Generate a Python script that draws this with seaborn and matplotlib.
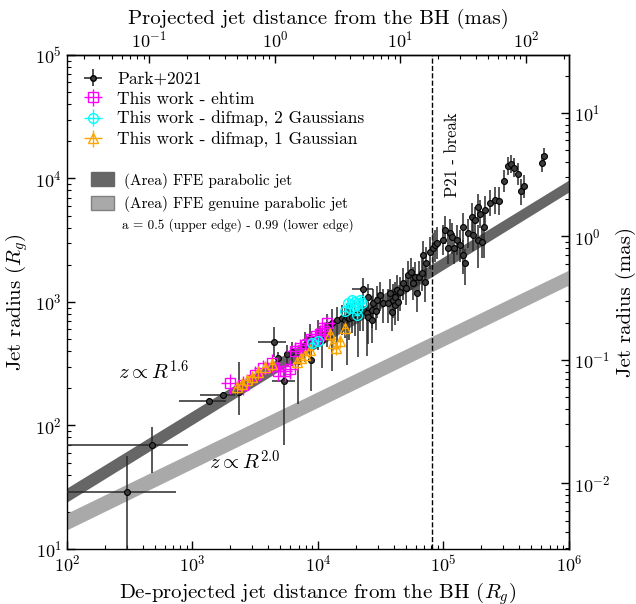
import numpy as np
import matplotlib
matplotlib.use("Agg")
import matplotlib.pyplot as plt
import seaborn as sns
from matplotlib.patches import Patch

# ---------------- data ----------------
# Park+2021 (de-projected distance [Rg], radius [Rg], asymmetric errors)
park_x = [300, 475, 1350, 1750, 2350, 4460, 4800, 5360, 5660, 6210, 6930, 7880, 8630, 8790,
          10000, 10800, 11800, 12900, 14200, 15500, 16400, 17000, 17700, 18700, 19700, 20800,
          21600, 22800, 22800, 24600, 25000, 25000, 26900, 26900, 27400, 29000, 29500, 31200,
          33000, 36100, 37500, 38900, 39600, 41100, 41100, 42600, 43400, 45000, 47500, 50200,
          52100, 55100, 57200, 59300, 61500, 63800, 67500, 68700, 71200, 72600, 78000, 82400,
          85500, 88700, 99000, 103000, 109000, 113000, 117000, 121000, 128000, 135000, 143000,
          143000, 148000, 157000, 169000, 172000, 178000, 188000, 188000, 195000, 203000, 210000,
          214000, 235000, 257000, 277000, 303000, 326000, 345000, 365000, 393000, 415000, 438000,
          610000, 632000]
park_y = [29, 70, 158, 177, 187, 474, 352, 229, 379, 394, 330, 449, 511, 339,
          561, 492, 651, 676, 715, 742, 715, 757, 742, 757, 785, 757,
          830, 861, 1270, 815, 1100, 757, 861, 715, 981, 846, 1040, 1140,
          981, 981, 1180, 830, 1040, 1100, 946, 1250, 1000, 1200, 1430, 1300,
          1660, 1750, 1430, 1590, 1180, 1590, 1720, 2400, 1450, 2070, 2540, 2740,
          2900, 3010, 3180, 3830, 2740, 3620, 3360, 2740, 3180, 2900, 4050,
          2400, 2070, 3620, 4880, 3490, 4610, 5880, 3180, 5160, 3060, 4050,
          5560, 6340, 6700, 6580, 9550, 12600, 13100, 12200, 10900, 7930, 8690,
          13400, 15200]
park_xlo = [200, 400, 570, 600, 0, 1130, 0, 1060, 0, 0, 0, 0, 0, 0,
            0, 0, 0, 0, 0, 0, 0, 0, 0, 0, 0, 0,
            0, 0, 4100, 0, 0, 0, 0, 0, 0, 0, 0, 0,
            0, 0, 0, 0, 0, 0, 0, 0, 0, 0, 0, 0,
            0, 0, 0, 0, 0, 0, 0, 0, 0, 0, 0, 0,
            0, 0, 0, 0, 0, 0, 0, 0, 0, 0, 0,
            0, 0, 0, 0, 0, 0, 0, 0, 0, 0, 0,
            0, 0, 0, 0, 0, 0, 0, 0, 0, 0, 0,
            0, 0]
park_xhi = [440, 445, 500, 430, 0, 1100, 0, 1200, 0, 0, 0, 0, 0, 0,
            0, 0, 0, 0, 0, 0, 0, 0, 0, 0, 0, 0,
            0, 0, 4600, 0, 0, 0, 0, 0, 0, 0, 0, 0,
            0, 0, 0, 0, 0, 0, 0, 0, 0, 0, 0, 0,
            0, 0, 0, 0, 0, 0, 0, 0, 0, 0, 0, 0,
            0, 0, 0, 0, 0, 0, 0, 0, 0, 0, 0,
            0, 0, 0, 0, 0, 0, 0, 0, 0, 0, 0,
            0, 0, 0, 0, 0, 0, 0, 0, 0, 0, 0,
            0, 0]
park_ylo = [21, 29, 8, 10, 65, 115, 40, 160, 70, 90, 180, 120, 150, 150,
            150, 200, 220, 400, 300, 200, 200, 450, 250, 200, 250, 400,
            250, 280, 250, 450, 300, 300, 250, 250, 300, 250, 300, 300,
            300, 300, 350, 250, 300, 300, 300, 350, 300, 350, 400, 350,
            450, 500, 400, 450, 350, 450, 500, 600, 450, 500, 700, 700,
            800, 800, 800, 900, 700, 900, 900, 700, 800, 800, 1000,
            700, 700, 900, 1200, 900, 1100, 1300, 1300, 1200, 800, 1800,
            1300, 1400, 1500, 1500, 1800, 2000, 2000, 2000, 2000, 1800, 1800,
            2200, 2200]
park_yhi = [28, 27, 8, 10, 140, 154, 40, 50, 70, 80, 60, 120, 150, 100,
            150, 120, 150, 200, 200, 200, 180, 200, 200, 220, 230, 250,
            250, 250, 300, 250, 300, 250, 250, 200, 300, 250, 300, 300,
            300, 300, 350, 250, 350, 350, 300, 400, 300, 400, 450, 400,
            500, 500, 500, 500, 450, 550, 600, 700, 500, 700, 800, 900,
            900, 1000, 1000, 1100, 900, 1100, 1000, 900, 1000, 900, 1200,
            800, 600, 1100, 1400, 1100, 1300, 1600, 1000, 1500, 1000, 1200,
            1600, 1800, 1900, 1900, 2200, 2400, 2400, 2400, 2400, 2000, 2000,
            2500, 2500]

# This work - ehtim
eht_x = [1990, 2520, 3150, 3650, 4300, 4800, 5460, 5980, 6560, 7190, 8020, 8790, 9640, 10400, 11200, 11800]
eht_y = [221, 213, 256, 292, 321, 276, 276, 287, 401, 424, 449, 502, 531, 551, 582, 676]
eht_xerr = [300, 380, 470, 550, 650, 700, 800, 900, 1000, 1100, 1200, 1300, 1400, 1500, 1700, 1800]
eht_yerr = [40, 38, 45, 50, 55, 48, 48, 50, 70, 75, 80, 85, 90, 95, 100, 110]

# This work - difmap, 2 Gaussians
dm2_x = [8960, 10000, 16400, 17300, 18000, 18700, 19700, 20500, 20800, 21600, 22400, 20500]
dm2_y = [466, 483, 846, 981, 894, 1040, 1000, 877, 981, 1040, 981, 785]
dm2_xerr = [450, 500, 800, 850, 900, 900, 1000, 1000, 1000, 1100, 1100, 1000]
dm2_yerr = [35, 38, 65, 75, 70, 80, 80, 70, 75, 80, 75, 60]

# This work - difmap, 1 Gaussian
dm1_x = [2270, 2480, 2720, 2980, 3330, 3780, 4300, 6810, 7330, 7880, 8630, 12500, 13200, 13900, 15000, 16400]
dm1_y = [205, 217, 233, 247, 271, 298, 315, 327, 352, 372, 408, 551, 466, 424, 483, 615]
dm1_xerr = [140, 150, 160, 180, 200, 230, 260, 400, 440, 470, 520, 750, 800, 830, 900, 1000]
dm1_yerr = [25, 26, 28, 30, 32, 36, 38, 40, 42, 45, 50, 65, 56, 51, 58, 74]

# FFE model bands (edges: a = 0.5 upper, a = 0.99 lower)
band_z = [1e2, 1e6]
ffe_upper = [31.2, 9730]
ffe_lower = [24.0, 7780]
gen_upper = [19.5, 1816]
gen_lower = [14.3, 1374]

break_z = 8.1e4
rg_per_mas_z = 4540.0   # distance axis conversion
rg_per_mas_r = 3400.0   # radius axis conversion

# ---------------- style ----------------
sns.set_theme(style="ticks")
plt.rcParams.update({
    "font.family": "serif",
    "font.serif": ["cmr10", "DejaVu Serif"],
    "mathtext.fontset": "cm",
    "axes.formatter.use_mathtext": True,
    "axes.edgecolor": "black",
    "axes.linewidth": 1.0,
    "xtick.color": "black",
    "ytick.color": "black",
    "text.color": "black",
    "axes.labelcolor": "black",
})

fig = plt.figure(figsize=(6.36, 6.04), dpi=100)
ax = fig.add_axes([0.1053, 0.0911, 0.7893, 0.8179])
ax.set_xscale("log")
ax.set_yscale("log")

ax.fill_between(band_z, ffe_lower, ffe_upper, color="#666666", lw=0, zorder=1)
ax.fill_between(band_z, gen_lower, gen_upper, color="#a9a9a9", lw=0, zorder=1)

# Park+2021
ax.errorbar(park_x, park_y, xerr=[park_xlo, park_xhi], yerr=[park_ylo, park_yhi],
            fmt="none", ecolor="#2a2a2a", elinewidth=1.1, capsize=0, zorder=3)
sns.scatterplot(x=park_x, y=park_y, ax=ax, marker="o", s=18, color="#3c3c3c",
                edgecolor="black", linewidth=0.8, zorder=3.5, legend=False)

common = dict(capsize=0, elinewidth=1.0, mfc="none", mew=1.0, ms=7)
ax.errorbar(eht_x, eht_y, xerr=eht_xerr, yerr=eht_yerr, fmt="s", color="magenta", zorder=4, **common)
ax.errorbar(dm1_x, dm1_y, xerr=dm1_xerr, yerr=dm1_yerr, fmt="^", color="orange", zorder=4.5, **common)
ax.errorbar(dm2_x, dm2_y, xerr=dm2_xerr, yerr=dm2_yerr, fmt="o", color="cyan", zorder=5, **common)

ax.axvline(break_z, color="black", ls="--", lw=1.0, zorder=2)
ax.text(0.768, 0.797, "P21 - break", rotation=90, transform=ax.transAxes,
        ha="center", va="center", fontsize=12)

ax.text(0.173, 0.358, r"$z \propto R^{1.6}$", transform=ax.transAxes, ha="center", va="center", fontsize=15)
ax.text(0.355, 0.176, r"$z \propto R^{2.0}$", transform=ax.transAxes, ha="center", va="center", fontsize=15)

ax.set_xlim(1e2, 1e6)
ax.set_ylim(1e1, 1e5)
ax.set_xlabel(r"De-projected jet distance from the BH ($R_g$)", fontsize=15)
ax.set_ylabel(r"Jet radius ($R_g$)", fontsize=15)
ax.tick_params(which="both", direction="in", top=False, right=False, labelsize=13)
ax.tick_params(which="major", length=6, width=1)
ax.tick_params(which="minor", length=3, width=0.8)

secx = ax.secondary_xaxis("top", functions=(lambda z: np.asarray(z) / rg_per_mas_z,
                                             lambda m: np.asarray(m) * rg_per_mas_z))
secx.set_xlabel("Projected jet distance from the BH (mas)", fontsize=15)
secx.tick_params(which="both", direction="in", labelsize=13)
secx.tick_params(which="major", length=6, width=1)
secx.tick_params(which="minor", length=3, width=0.8)

secy = ax.secondary_yaxis("right", functions=(lambda r: np.asarray(r) / rg_per_mas_r,
                                               lambda m: np.asarray(m) * rg_per_mas_r))
secy.set_ylabel("Jet radius (mas)", fontsize=15)
secy.tick_params(which="both", direction="in", labelsize=13)
secy.tick_params(which="major", length=6, width=1)
secy.tick_params(which="minor", length=3, width=0.8)

# legends
nan = [np.nan]
h1 = ax.errorbar(nan, nan, xerr=[1], yerr=[1], fmt="o", ms=4, mfc="#3c3c3c", mec="black",
                 ecolor="#1e1e1e", elinewidth=1.1, capsize=0)
h2 = ax.errorbar(nan, nan, xerr=[1], yerr=[1], fmt="s", color="magenta", **common)
h3 = ax.errorbar(nan, nan, xerr=[1], yerr=[1], fmt="o", color="cyan", **common)
h4 = ax.errorbar(nan, nan, xerr=[1], yerr=[1], fmt="^", color="orange", **common)
leg1 = ax.legend([h1, h2, h3, h4],
                 ["Park+2021", "This work - ehtim", "This work - difmap, 2 Gaussians",
                  "This work - difmap, 1 Gaussian"],
                 loc="upper left", bbox_to_anchor=(0.0, 0.991), frameon=False, fontsize=12.5,
                 handlelength=1.6, handletextpad=0.6, labelspacing=0.25, borderaxespad=0.3)
ax.add_artist(leg1)
ax.legend([Patch(facecolor="#666666", edgecolor="#666666"), Patch(facecolor="#a9a9a9", edgecolor="#808080")],
          ["(Area) FFE parabolic jet", "(Area) FFE genuine parabolic jet"],
          loc="upper left", bbox_to_anchor=(0.02, 0.79), frameon=False, fontsize=11,
          handlelength=1.5, handleheight=1.0, handletextpad=0.7, labelspacing=0.5)
ax.text(0.11, 0.656, "a = 0.5 (upper edge) - 0.99 (lower edge)", transform=ax.transAxes,
        fontsize=9.5, va="center", ha="left")

fig.savefig("out.png", dpi=100)
